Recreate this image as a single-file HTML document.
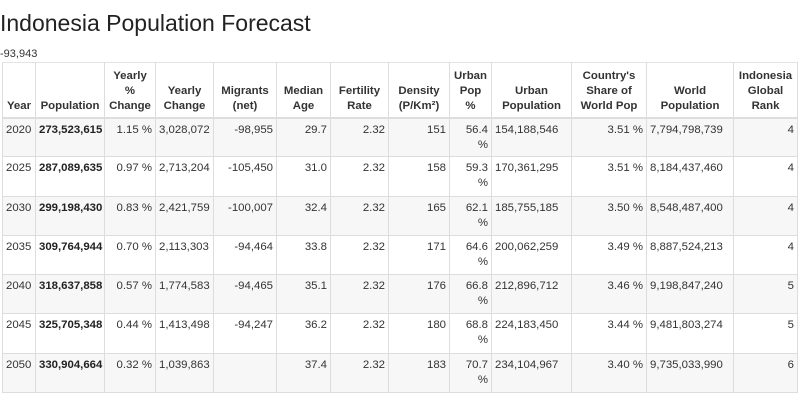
<!DOCTYPE html>
<html><head><meta charset="utf-8"><style>
body{margin:0;width:808px;height:411px;background:#fff;font-family:"Liberation Sans",Arial,sans-serif;color:#333;position:relative;overflow:hidden}
h1{position:absolute;left:0;top:10px;margin:0;font-weight:normal;font-size:23px;color:#222}
.sub{position:absolute;left:0;top:48px;font-size:11px;color:#333}
table{position:absolute;left:2px;top:62px;width:795px;border-collapse:collapse;table-layout:fixed;font-size:11.4px}
th,td{border:1px solid #ddd;padding:3px 3px;vertical-align:top;text-align:right;box-sizing:border-box}
th{vertical-align:bottom;text-align:center;height:55px;font-weight:bold;line-height:15px;border-top:1px solid #e4e4e4;border-bottom:2px solid #ddd}
td{height:39.3px;line-height:15px;padding-top:4px;padding-bottom:1px}
tbody tr:nth-child(odd){background:#f7f7f7}
td.l{text-align:left}
td.b{font-weight:bold;color:#222}
</style></head><body>
<h1>Indonesia Population Forecast</h1>
<div class="sub">-93,943</div>
<table>
<colgroup><col style="width:33px"><col style="width:69px"><col style="width:51px"><col style="width:58px"><col style="width:63px"><col style="width:54px"><col style="width:58px"><col style="width:61px"><col style="width:42px"><col style="width:80px"><col style="width:75px"><col style="width:87px"><col style="width:64px"></colgroup>
<thead><tr>
<th>Year</th><th>Population</th><th>Yearly<br>%<br>Change</th><th>Yearly<br>Change</th><th>Migrants<br>(net)</th><th>Median<br>Age</th><th>Fertility<br>Rate</th><th>Density<br>(P/Km²)</th><th>Urban<br>Pop<br>%</th><th>Urban<br>Population</th><th>Country's<br>Share of<br>World Pop</th><th>World<br>Population</th><th>Indonesia<br>Global<br>Rank</th>
</tr></thead>
<tbody id="tb"></tbody>
</table>
<script>
const years=["2020","2025","2030","2035","2040","2045","2050"];
const population=["273,523,615","287,089,635","299,198,430","309,764,944","318,637,858","325,705,348","330,904,664"];
const yearlyPct=["1.15 %","0.97 %","0.83 %","0.70 %","0.57 %","0.44 %","0.32 %"];
const yearlyChange=["3,028,072","2,713,204","2,421,759","2,113,303","1,774,583","1,413,498","1,039,863"];
const migrants=["-98,955","-105,450","-100,007","-94,464","-94,465","-94,247",""];
const medianAge=["29.7","31.0","32.4","33.8","35.1","36.2","37.4"];
const fertility=["2.32","2.32","2.32","2.32","2.32","2.32","2.32"];
const density=["151","158","165","171","176","180","183"];
const urbanPct=["56.4 %","59.3 %","62.1 %","64.6 %","66.8 %","68.8 %","70.7 %"];
const urbanPop=["154,188,546","170,361,295","185,755,185","200,062,259","212,896,712","224,183,450","234,104,967"];
const share=["3.51 %","3.51 %","3.50 %","3.49 %","3.46 %","3.44 %","3.40 %"];
const worldPop=["7,794,798,739","8,184,437,460","8,548,487,400","8,887,524,213","9,198,847,240","9,481,803,274","9,735,033,990"];
const rank=["4","4","4","4","5","5","6"];
const tb=document.getElementById('tb');
years.forEach((y,i)=>{
const tr=document.createElement('tr');


const cells=[[y,'l'],[population[i],'l b'],[yearlyPct[i],''],[yearlyChange[i],'l'],[migrants[i],''],[medianAge[i],''],[fertility[i],''],[density[i],''],[urbanPct[i],''],[urbanPop[i],'l'],[share[i],''],[worldPop[i],'l'],[rank[i],'']];
cells.forEach(c=>{const td=document.createElement('td');td.textContent=c[0];if(c[1])td.className=c[1];tr.appendChild(td);});
tb.appendChild(tr);
});
</script>
</body></html>
